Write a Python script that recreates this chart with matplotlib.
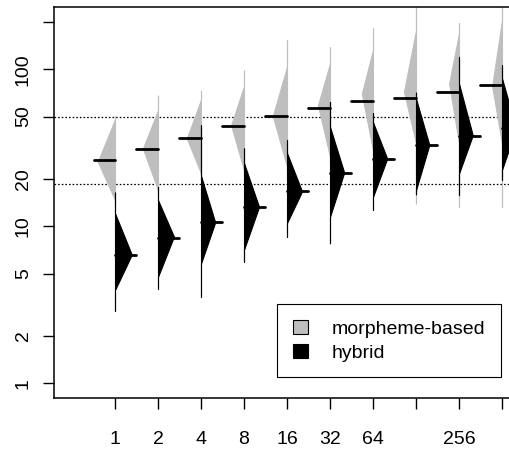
import numpy as np
import matplotlib.pyplot as plt
from matplotlib.patches import Patch

plt.rcParams['font.family'] = ['Liberation Sans', 'DejaVu Sans']

sizes = [1, 2, 4, 8, 16, 32, 64, 128, 256, 512]
size_labels = ["1", "2", "4", "8", "16", "32", "64", "", "256", ""]

# morpheme-based (grey, left half of each bean)
m_mean = [26.3, 31.3, 36.3, 43.6, 50.4, 57, 63, 66, 72, 80]
m_peak = [25.8, 31.3, 36.3, 44, 50.4, 59, 70, 72, 81, 78]
m_width = [0.40, 0.35, 0.33, 0.30, 0.33, 0.28, 0.26, 0.28, 0.23, 0.23]
m_lo_tail = [14, 16, 20, 21, 22, 25, 26, 14, 13.3, 13.3]
m_lo = [14.7, 17, 21.8, 22.8, 24, 27.7, 30.5, 33.8, 33.8, 33.8]
m_hi = [48, 55, 64, 78, 104, 109, 133, 177, 170, 205]
m_hi_tail = [50, 68, 73, 98, 153, 138, 182, 250, 197, 250]

# hybrid (black, right half of each bean)
h_mean = [6.6, 8.4, 10.6, 13.2, 16.7, 21.8, 27, 33, 37.5, 42]
h_peak = [6.6, 8.6, 10.6, 13.3, 16.7, 22, 27, 33, 38, 42]
h_width = [0.39, 0.37, 0.33, 0.35, 0.35, 0.33, 0.33, 0.31, 0.32, 0.33]
h_lo_tail = [2.9, 4.0, 3.55, 5.96, 8.6, 7.8, 12.7, 16, 15.8, 19.7]
h_lo = [3.93, 4.77, 5.8, 7.1, 10.5, 11.5, 15.4, 17, 21.7, 22.9]
h_hi = [12.1, 14.7, 21, 25.3, 29.3, 43, 46, 65, 81, 87.6]
h_hi_tail = [16.4, 17.8, 44, 31.3, 35.5, 62, 52.5, 71, 120, 106]

ref_lines = [50, 18.5]

GREY = "#BEBEBE"

fig = plt.figure(figsize=(5.09, 4.51), dpi=100)
# axes run past the right edge of the picture, as in the original
ax = fig.add_axes([54 / 509, 53 / 451, (560 - 54) / 509, (398 - 6.7) / 451])
ax.set_yscale('log')
ax.set_xlim(1 - 61 / 43, 1 + (560 - 115) / 43)
ax.set_ylim(0.806, 250.5)

for y in ref_lines:
    ax.axhline(y, color='black', lw=0.9, linestyle=(0, (1.3, 1.6)), zorder=1)


def half_bean(ax, c, side, lo_t, lo, peak, hi, hi_t, w, color):
    ys = [lo_t, lo, peak, hi, hi_t]
    ws = [0, 0, w, 0, 0]
    xs = [c + side * v for v in ws]
    ax.fill_betweenx(ys, c, xs, facecolor=color, edgecolor=color, lw=0.8, zorder=2)


pos = np.arange(1, len(sizes) + 1)
for i, c in enumerate(pos):
    half_bean(ax, c, -1, m_lo_tail[i], m_lo[i], m_peak[i], m_hi[i], m_hi_tail[i],
              m_width[i], GREY)
    half_bean(ax, c, 1, h_lo_tail[i], h_lo[i], h_peak[i], h_hi[i], h_hi_tail[i],
              h_width[i], 'black')
    ax.plot([c - 0.5, c], [m_mean[i], m_mean[i]], color='black', lw=2,
            solid_capstyle='round', zorder=3)
    ax.plot([c, c + 0.5], [h_mean[i], h_mean[i]], color='black', lw=2,
            solid_capstyle='round', zorder=3)

ax.set_xticks(pos)
ax.set_xticklabels(size_labels)
ax.set_yticks([1, 2, 5, 10, 20, 50, 100, 200])
ax.set_yticklabels(["1", "2", "5", "10", "20", "50", "100", ""])
ax.minorticks_off()
ax.tick_params(axis='both', labelsize=14, width=1, length=8)
ax.tick_params(axis='x', pad=16)
ax.tick_params(axis='y', pad=8)
for lab in ax.get_yticklabels():
    lab.set_rotation(90)
    lab.set_va('center')
for sp in ax.spines.values():
    sp.set_linewidth(1.1)

# legend box
handles = [Patch(facecolor=GREY, edgecolor='black', lw=0.8),
           Patch(facecolor='black', edgecolor='black', lw=0.8)]
leg = ax.legend(handles, ["morpheme-based", "hybrid"], loc='upper left',
                bbox_to_anchor=(277 / 509, 1 - 304 / 451), bbox_transform=fig.transFigure,
                borderaxespad=0, fancybox=False, edgecolor='black', framealpha=1,
                fontsize=14, handlelength=0.8, handleheight=0.8, handletextpad=1.2,
                labelspacing=0.3, borderpad=0.8)
leg.get_frame().set_linewidth(0.8)

fig.savefig("out.png", dpi=100)
